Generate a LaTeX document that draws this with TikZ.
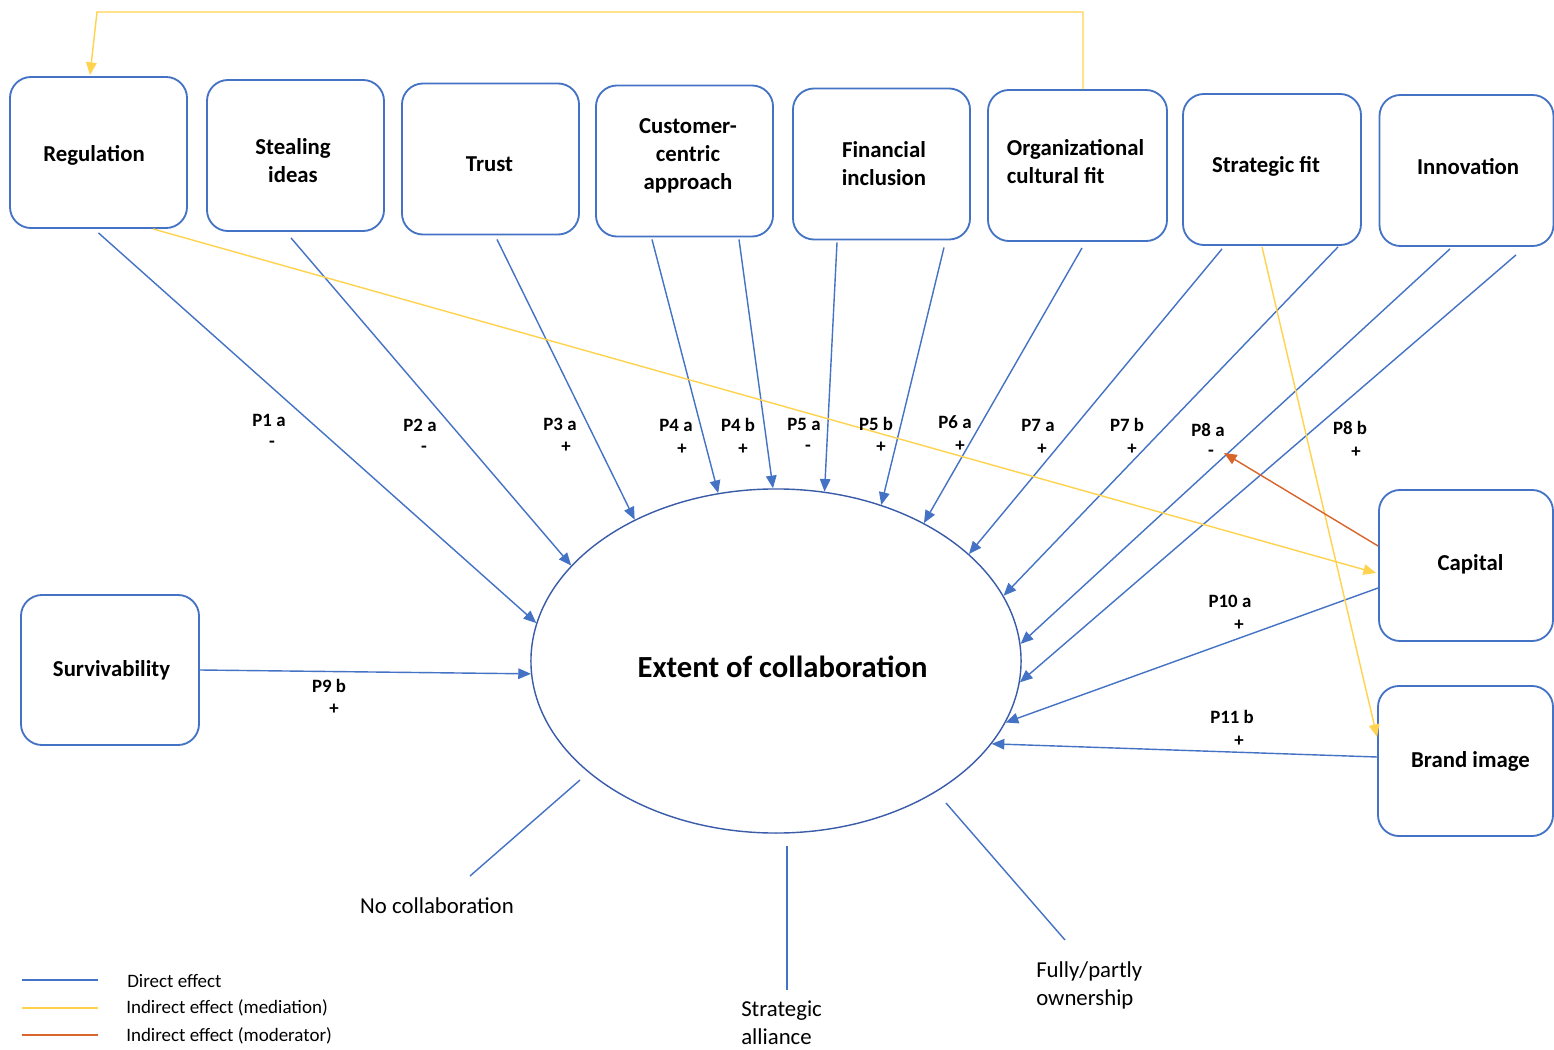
\documentclass[tikz,border=0pt]{standalone}
\usepackage{fontspec}
\setmainfont{Carlito}
\usetikzlibrary{arrows.meta,calc,shapes.geometric}

\definecolor{dblue}{HTML}{4472C4}
\definecolor{eblue}{HTML}{3A5BA8}
\definecolor{medy}{HTML}{FFD34E}
\definecolor{modo}{HTML}{D8652B}

\tikzset{
  factorbox/.style={draw=dblue, line width=1.3pt, rounded corners=15pt,
    minimum width=4.425cm, minimum height=3.775cm, inner sep=0pt},
  ftext/.style={font=\fontsize{16.2}{19.9}\selectfont\bfseries, align=center, inner sep=0pt},
  plab/.style={font=\fontsize{13.4}{16}\selectfont\bfseries, inner sep=0pt},
  tipstyle/.style={-{Triangle[length=9pt,width=7.5pt]}},
  direct/.style={draw=dblue, line width=1pt, tipstyle},
  mediation/.style={draw=medy, line width=1pt, tipstyle},
  moderation/.style={draw=modo, line width=1pt, tipstyle},
  modeline/.style={draw=dblue, line width=1pt},
  outcome/.style={font=\fontsize{16.2}{19.9}\selectfont, inner sep=0pt},
  legtext/.style={font=\fontsize{13.5}{16}\selectfont, inner sep=0pt, anchor=west},
}

\begin{document}
\begin{tikzpicture}[x=0.025cm, y=-0.025cm]
\useasboundingbox[fill=white] (0,0) rectangle (1554,1050);

% factor boxes
\node[factorbox] (reg)   at (98.5,152.5) {};
\node[factorbox] (steal) at (295.5,155.5) {};
\node[factorbox] (trust) at (490.5,159) {};
\node[factorbox] (cust)  at (684.5,161) {};
\node[factorbox] (fin)   at (881.5,164) {};
\node[factorbox, minimum width=4.475cm] (org) at (1077.5,165.5) {};
\node[factorbox, minimum width=4.45cm] (strat) at (1272,169.5) {};
\node[factorbox, minimum width=4.35cm] (innov) at (1466.5,170.5) {};
\node[factorbox, minimum width=4.35cm] (cap) at (1466,565.5) {};
\node[factorbox, minimum width=4.375cm, minimum height=3.75cm] (brand) at (1465.5,761) {};
\node[factorbox, minimum width=4.45cm, minimum height=3.75cm] (surv) at (110,670) {};

% box labels
\node[ftext] (reg-t)   at (94,155)    {Regulation};
\node[ftext] (steal-t) at (293,161)   {Stealing\\ideas};
\node[ftext] (trust-t) at (489.5,164) {Trust};
\node[ftext] (cust-t)  at (688,156)   {Customer-\\centric\\approach};
\node[ftext] (fin-t)   at (884,164)   {Financial\\inclusion};
\node[ftext, align=left] (org-t) at (1075.5,162) {Organizational\\cultural fit};
\node[ftext] (strat-t) at (1266,166)  {Strategic fit};
\node[ftext] (innov-t) at (1468,167)  {Innovation};
\node[ftext] (cap-t)   at (1470.5,564) {Capital};
\node[ftext] (brand-t) at (1470.5,761) {Brand image};
\node[ftext] (surv-t)  at (111.5,670) {Survivability};

% central construct
\node[ellipse, draw=eblue, line width=1pt, minimum width=12.25cm, minimum height=8.6cm,
      inner sep=0pt] (coll) at (776,661) {};
\node[font=\fontsize{21.8}{26}\selectfont\bfseries, inner sep=0pt] (coll-t) at (782.5,667)
      {Extent of collaboration};

% direct effects
\draw[direct] ($(reg.south)+(0,4)$)        -- (coll.171.8);
\draw[direct] ($(steal.south)+(-4.5,6)$)   -- (coll.155.3);
\draw[direct] ($(trust.south)+(6.5,4)$)    -- (coll.135.6);
\draw[direct] ($(cust.south)+(-32.5,2)$)   -- (coll.109.3);
\draw[direct] ($(cust.south)+(54.5,2)$)    -- (coll.91);
\draw[direct] ($(fin.south)+(-44.5,2)$)    -- (coll.74.7);
\draw[direct] ($(fin.south)+(62.5,7)$)     -- (coll.56.9);
\draw[direct] ($(org.south)+(4.5,6)$)      -- (coll.43.1);
\draw[direct] ($(strat.south)+(-50,3)$)    -- (coll.29);
\draw[direct] ($(strat.south)+(66,1)$)     -- (coll.16.6);
\draw[direct] ($(innov.south)+(-16.5,2)$)  -- (coll.4.9);
\draw[direct] ($(innov.south)+(49.5,8)$)   -- (coll.355.1);
\draw[direct] ($(cap.west)+(0,22.5)$)      -- (coll.345.8);
\draw[direct] ($(brand.west)+(0,-4)$)      -- (coll.339.2);
\draw[direct] (surv.east)                  -- (coll.183.7);

% mediation paths
\coordinate (ytr) at (1083,12);
\coordinate (ytl) at (97,12);
\draw[mediation] ($(org.north)+(5.5,0)$) -- (ytr) -- (ytl) -- ($(reg.north)+(-8.5,-1)$);
\draw[mediation] ($(reg.south)+(54.5,0)$) -- ($(cap.west)+(-2,7.5)$);
\draw[mediation] ($(strat.south)+(-10,1)$) -- ($(brand.west)+(0,-24)$);

% moderation path
\coordinate (p8mod) at (1224,453);
\draw[moderation] ($(cap.west)+(0,-19.5)$) -- (p8mod);

% proposition labels
\node[plab] (p1a) at (269,420) {P1 a};   \node[plab] (p1s) at (272,444) {-};
\node[plab] (p2a) at (420,425) {P2 a};   \node[plab] (p2s) at (424,449) {-};
\node[plab] (p3a) at (560,424) {P3 a};   \node[plab] (p3s) at (566,447) {+};
\node[plab] (p4a) at (676,425) {P4 a};   \node[plab] (p4as) at (682,449) {+};
\node[plab] (p4b) at (738,425) {P4 b};   \node[plab] (p4bs) at (743,449) {+};
\node[plab] (p5a) at (804,424) {P5 a};   \node[plab] (p5as) at (808,448) {-};
\node[plab] (p5b) at (876,424) {P5 b};   \node[plab] (p5bs) at (881,447) {+};
\node[plab] (p6a) at (955,422) {P6 a};   \node[plab] (p6s) at (960,446) {+};
\node[plab] (p7a) at (1038,425) {P7 a};  \node[plab] (p7as) at (1042,449) {+};
\node[plab] (p7b) at (1127,425) {P7 b};  \node[plab] (p7bs) at (1132,449) {+};
\node[plab] (p8a) at (1208,430) {P8 a};  \node[plab] (p8as) at (1211,453) {-};
\node[plab] (p8b) at (1350,428) {P8 b};  \node[plab] (p8bs) at (1356,452) {+};
\node[plab] (p10a) at (1230,601) {P10 a}; \node[plab] (p10s) at (1239,625) {+};
\node[plab] (p11b) at (1232,717) {P11 b}; \node[plab] (p11s) at (1239,741) {+};
\node[plab] (p9b) at (329,686) {P9 b};   \node[plab] (p9s) at (334,709) {+};

% modes of collaboration
\coordinate (nc1) at (580,780);
\coordinate (nc2) at (470,876);
\draw[modeline] (nc1) -- (nc2);
\node[outcome] (nocol) at (437,906) {No collaboration};

\coordinate (sa1) at (787,846);
\coordinate (sa2) at (787,990);
\draw[modeline] (sa1) -- (sa2);
\node[outcome, align=left, anchor=west] (sall) at (741,1023) {Strategic\\alliance};

\coordinate (fo1) at (946,803);
\coordinate (fo2) at (1065,940);
\draw[modeline] (fo1) -- (fo2);
\node[outcome, align=left, anchor=west] (fown) at (1036,985) {Fully/partly\\ownership};

% legend
\coordinate (l1a) at (22,980);  \coordinate (l1b) at (98,980);
\coordinate (l2a) at (22,1008); \coordinate (l2b) at (98,1008);
\coordinate (l3a) at (22,1035); \coordinate (l3b) at (98,1035);
\draw[draw=dblue, line width=1.3pt] (l1a) -- (l1b);
\draw[draw=medy, line width=1.3pt] (l2a) -- (l2b);
\draw[draw=modo, line width=1.3pt] (l3a) -- (l3b);
\node[legtext] (l1t) at (127,981)  {Direct effect};
\node[legtext] (l2t) at (126,1008) {Indirect effect (mediation)};
\node[legtext] (l3t) at (126,1036) {Indirect effect (moderator)};
\end{tikzpicture}
\end{document}
